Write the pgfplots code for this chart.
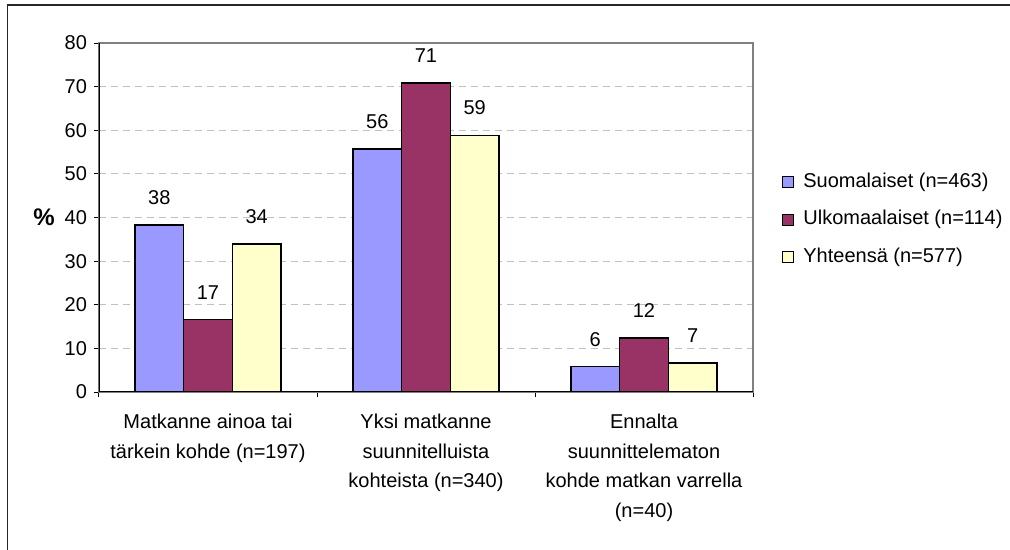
\documentclass[border=0pt]{standalone}
\usepackage{pgfplots}
\pgfplotsset{compat=1.18}
\usepackage{fontspec}
\setmainfont{Liberation Sans}
\definecolor{cA}{HTML}{9999FF}
\definecolor{cB}{HTML}{993366}
\definecolor{cC}{HTML}{FFFFCC}
\definecolor{gridc}{HTML}{C0C0C0}
\definecolor{framec}{HTML}{808080}
\newcommand{\fs}{\fontsize{10bp}{12bp}\selectfont}
\pgfplotsset{sq legend/.style={legend image code/.code={\draw[##1,line width=0.5bp] (0bp,-2.75bp) rectangle (5.5bp,2.75bp);}}}
\begin{document}
\begin{tikzpicture}
\useasboundingbox (-49.5bp,-79bp) rectangle (455.5bp,196bp);
\fill[white] (-49.5bp,-79bp) rectangle (455.5bp,196bp);
\draw[line width=0.8bp, black!85] (-45.75bp,-79bp) -- (-45.75bp,193.5bp) -- (455.5bp,193.5bp);
\begin{axis}[
  at={(0,0)}, anchor=south west,
  width=327bp, height=174.5bp, scale only axis,
  ybar=0pt, bar width=0.2234,
  xmin=-0.5, xmax=2.5, ymin=0, ymax=80,
  ytick={0,10,...,80},
  xtick={-0.5,0.5,1.5,2.5}, xticklabels={},
  extra x ticks={0,1,2},
  extra x tick labels={{Matkanne ainoa tai\\tärkein kohde (n=197)},{Yksi matkanne\\suunnitelluista\\kohteista (n=340)},{Ennalta\\suunnittelematon\\kohde matkan varrella\\(n=40)}},
  extra x tick style={major tick length=0pt, grid=none,
     xticklabel style={align=center, anchor=north, inner sep=0pt, yshift=-11bp, font=\fontsize{10bp}{14.7bp}\selectfont}},
  tick align=outside, major tick length=2.5bp,
  xtick pos=bottom, ytick pos=left,
  tick style={black, line width=0.5bp},
  ymajorgrids, major grid style={gridc, line width=0.6bp, dash pattern=on 3.5bp off 2.5bp},
  axis line style={framec, line width=0.6bp},
  /pgf/number format/assume math mode=true,
  yticklabel style={font=\fs},
  ylabel={\textbf{\%}}, ylabel style={rotate=-90, at={(axis description cs:-0.084,0.5)}, anchor=center, font=\fontsize{12bp}{14bp}\selectfont},
  nodes near coords={\pgfmathprintnumber[fixed,precision=0]{\pgfplotspointmeta}},
  every node near coord/.append style={font=\fs, anchor=south, yshift=6.5bp, black},
  legend style={at={(axis description cs:1.0443,0.494)}, anchor=west, draw=none, fill=none, inner sep=0pt,
     font=\fs, row sep=9.25bp, nodes={inner sep=0pt, text height=7.3bp, text depth=2.2bp},
     /tikz/every odd column/.append style={column sep=4.5bp}},
  legend cell align=left,
]
\addplot[fill=cA, draw=black, line width=0.8bp, sq legend] coordinates {(0,38.3) (1,55.7) (2,5.8)};
\addplot[fill=cB, draw=black, line width=0.8bp, sq legend] coordinates {(0,16.6) (1,70.9) (2,12.4)};
\addplot[fill=cC, draw=black, line width=0.8bp, sq legend] coordinates {(0,33.9) (1,58.8) (2,6.6)};
\legend{Suomalaiset (n=463),Ulkomaalaiset (n=114),Yhteensä (n=577)}
\draw[black, line width=0.6bp] (rel axis cs:0,1) -- (rel axis cs:0,0) -- (rel axis cs:1,0);
\end{axis}
\end{tikzpicture}
\end{document}
